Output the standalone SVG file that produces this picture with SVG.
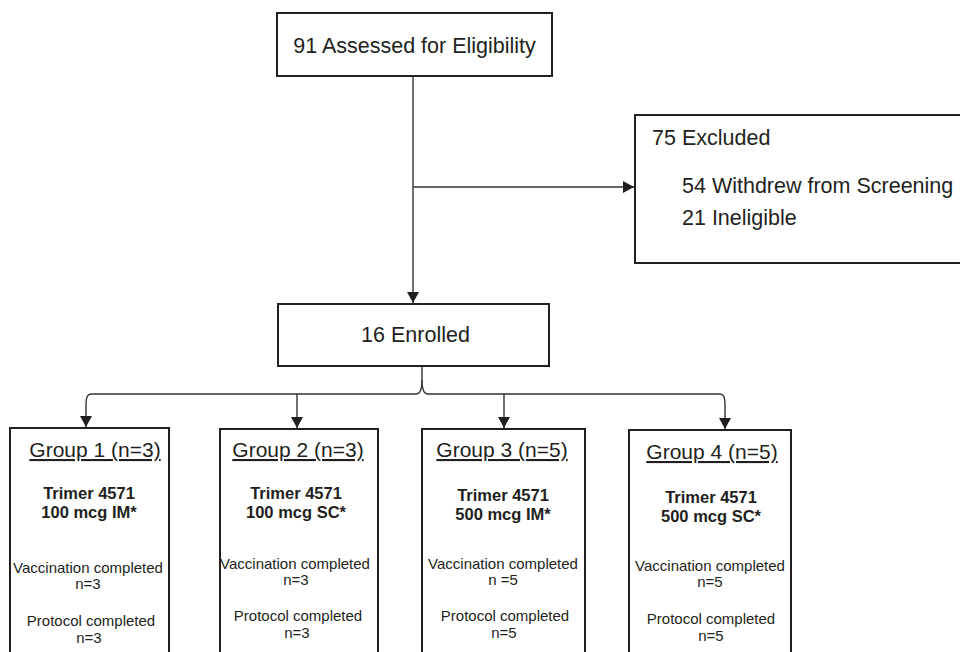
<svg xmlns="http://www.w3.org/2000/svg" width="960" height="652" viewBox="0 0 960 652">
<style>
.box{fill:#fff;stroke:#231f20;stroke-width:2}
.t{font-family:"Liberation Sans",Arial,sans-serif;fill:#231f20}
.big{font-size:21.5px}
.title{font-size:21px;text-decoration:underline}
.b{font-size:16.5px;font-weight:bold}
.s{font-size:15px}
.c{text-anchor:middle}
.ln{fill:none;stroke:#333;stroke-width:1.4}
</style>
<defs>
<marker id="ah" markerUnits="userSpaceOnUse" markerWidth="13" markerHeight="13" refX="11" refY="6" orient="auto">
<path d="M0,0 L11,6 L0,12 z" fill="#231f20"/>
</marker>
</defs>
<rect width="960" height="652" fill="#fff"/>
<g id="connectors">
<line class="ln" x1="413" y1="76" x2="413" y2="303" stroke="#555" marker-end="url(#ah)"/>
<line class="ln" x1="413" y1="187" x2="634" y2="187" marker-end="url(#ah)"/>
<path class="ln" d="M422,366 L422,380 C422,390 420,394 416,394 L91,394 C87.5,394 86,398 86,404 L86,427" marker-end="url(#ah)"/>
<path class="ln" d="M422,380 C422,390 424,394 428,394 L720,394 C723.5,394 725,398 725,404 L725,429" marker-end="url(#ah)"/>
<line class="ln" x1="297" y1="394" x2="297" y2="428" marker-end="url(#ah)"/>
<line class="ln" x1="504" y1="394" x2="504" y2="428" marker-end="url(#ah)"/>
</g>
<g id="assessed">
<rect class="box" x="277" y="13" width="275" height="63"/>
<text class="t big c" x="414.5" y="53">91 Assessed for Eligibility</text>
</g>
<g id="excluded">
<rect class="box" x="635" y="115" width="335" height="148"/>
<text class="t big" x="652" y="145">75 Excluded</text>
<text class="t big" x="682" y="193">54 Withdrew from Screening</text>
<text class="t big" x="682" y="225">21 Ineligible</text>
</g>
<g id="enrolled">
<rect class="box" x="278" y="304" width="271" height="62"/>
<text class="t big c" x="415.5" y="342">16 Enrolled</text>
</g>
<g id="group1">
<rect class="box" x="10" y="428" width="159" height="240"/>
<text class="t title c" x="95" y="457">Group 1 (n=3)</text>
<text class="t b c" x="89" y="499">Trimer 4571</text>
<text class="t b c" x="89" y="518">100 mcg IM*</text>
<text class="t s c" x="88" y="573">Vaccination completed</text>
<text class="t s c" x="88" y="589">n=3</text>
<text class="t s c" x="91" y="626">Protocol completed</text>
<text class="t s c" x="89" y="643">n=3</text>
</g>
<g id="group2">
<rect class="box" x="220" y="429" width="158" height="240"/>
<text class="t title c" x="298" y="457">Group 2 (n=3)</text>
<text class="t b c" x="296" y="499">Trimer 4571</text>
<text class="t b c" x="296" y="518">100 mcg SC*</text>
<text class="t s c" x="295" y="569">Vaccination completed</text>
<text class="t s c" x="296" y="585">n=3</text>
<text class="t s c" x="298" y="621">Protocol completed</text>
<text class="t s c" x="297" y="638">n=3</text>
</g>
<g id="group3">
<rect class="box" x="422" y="429" width="163" height="240"/>
<text class="t title c" x="502" y="457">Group 3 (n=5)</text>
<text class="t b c" x="503" y="501">Trimer 4571</text>
<text class="t b c" x="503" y="520">500 mcg IM*</text>
<text class="t s c" x="503" y="569">Vaccination completed</text>
<text class="t s c" x="503" y="585">n =5</text>
<text class="t s c" x="505" y="621">Protocol completed</text>
<text class="t s c" x="504" y="638">n=5</text>
</g>
<g id="group4">
<rect class="box" x="629" y="430" width="162" height="240"/>
<text class="t title c" x="712" y="459">Group 4 (n=5)</text>
<text class="t b c" x="711" y="503">Trimer 4571</text>
<text class="t b c" x="711" y="522">500 mcg SC*</text>
<text class="t s c" x="710" y="571">Vaccination completed</text>
<text class="t s c" x="710" y="587">n=5</text>
<text class="t s c" x="711" y="624">Protocol completed</text>
<text class="t s c" x="711" y="641">n=5</text>
</g>
</svg>
